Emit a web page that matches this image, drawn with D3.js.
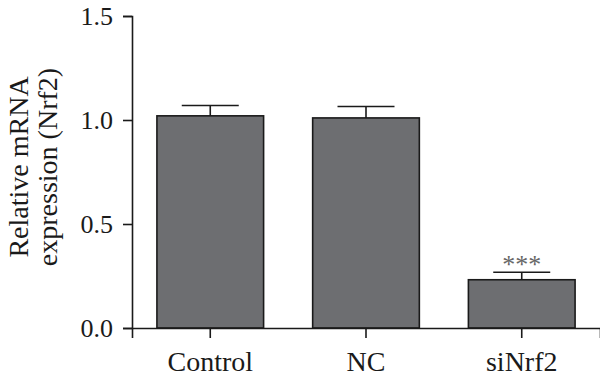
<!DOCTYPE html>
<html><head><meta charset="utf-8">
<script src="https://cdn.jsdelivr.net/npm/d3@7"></script>
<style>body{margin:0;background:#fff}svg{display:block}</style>
</head><body>
<svg id="c" width="600" height="381"></svg>
<script>
const categories = ["Control", "NC", "siNrf2"];
const means = [1.02, 1.01, 0.232];
const errors = [0.05, 0.055, 0.036];
const significance = ["", "", "***"];
const yTicks = [0.0, 0.5, 1.0, 1.5];
const yTitle = ["Relative mRNA", "expression (Nrf2)"];

(function () {
const svg = d3.select("#c");
const FONT = "Liberation Serif";
const INK = "#1a1a1a";
const mLeft = 132, mRight = 600, mTop = 16, mBottom = 328;

const x = d3.scaleBand().domain(categories).range([mLeft, mRight]).paddingInner(0.315).paddingOuter(0.16);
const y = d3.scaleLinear().domain([0, 1.5]).range([mBottom, mTop]);

// bars
svg.selectAll("rect.bar").data(categories).join("rect")
  .attr("class", "bar")
  .attr("x", d => x(d)).attr("width", x.bandwidth())
  .attr("y", (d, i) => y(means[i])).attr("height", (d, i) => y(0) - y(means[i]))
  .attr("fill", "#6d6e71").attr("stroke", INK).attr("stroke-width", 1.6);

// error bars
const capW = 57;
const eb = svg.selectAll("g.eb").data(categories).join("g").attr("class", "eb");
eb.append("line")
  .attr("x1", d => x(d) + x.bandwidth() / 2).attr("x2", d => x(d) + x.bandwidth() / 2)
  .attr("y1", (d, i) => y(means[i])).attr("y2", (d, i) => y(means[i] + errors[i]))
  .attr("stroke", INK).attr("stroke-width", 1.6);
eb.append("line")
  .attr("x1", d => x(d) + x.bandwidth() / 2 - capW / 2).attr("x2", d => x(d) + x.bandwidth() / 2 + capW / 2)
  .attr("y1", (d, i) => y(means[i] + errors[i])).attr("y2", (d, i) => y(means[i] + errors[i]))
  .attr("stroke", INK).attr("stroke-width", 1.6);

// significance
svg.selectAll("text.sig").data(categories).join("text")
  .attr("class", "sig")
  .attr("x", d => x(d) + x.bandwidth() / 2)
  .attr("y", (d, i) => y(means[i] + errors[i]) + 1)
  .attr("text-anchor", "middle")
  .attr("font-family", FONT).attr("font-size", 26).attr("fill", "#666")
  .text((d, i) => significance[i]);

// y axis
const yAxis = svg.append("g").attr("transform", `translate(${mLeft},0)`)
  .call(d3.axisLeft(y).tickValues(yTicks).tickFormat(d3.format(".1f")).tickSizeOuter(0).tickSize(9).tickPadding(10));
yAxis.select(".domain").attr("stroke", INK).attr("stroke-width", 1.6);
yAxis.selectAll(".tick line").attr("stroke", INK).attr("stroke-width", 1.6);
yAxis.selectAll(".tick text").attr("font-family", FONT).attr("font-size", 26).attr("fill", INK).attr("dy", "0.34em");

// x axis
const xAxis = svg.append("g").attr("transform", `translate(0,${mBottom})`)
  .call(d3.axisBottom(x).tickSizeOuter(0).tickSize(10).tickPadding(13.5));
xAxis.select(".domain").attr("stroke", INK).attr("stroke-width", 1.6);
xAxis.selectAll(".tick line").attr("stroke", INK).attr("stroke-width", 1.6);
xAxis.selectAll(".tick text").attr("font-family", FONT).attr("font-size", 28).attr("fill", INK).attr("dy", "0.71em");

// y title
const t = svg.append("text").attr("transform", "translate(27.5,167) rotate(-90)")
  .attr("text-anchor", "middle").attr("font-family", FONT).attr("font-size", 28).attr("fill", INK);
t.append("tspan").attr("x", 0).attr("y", 0).text(yTitle[0]);
t.append("tspan").attr("x", 0).attr("y", 29.5).text(yTitle[1]);
})();
</script>
</body></html>
